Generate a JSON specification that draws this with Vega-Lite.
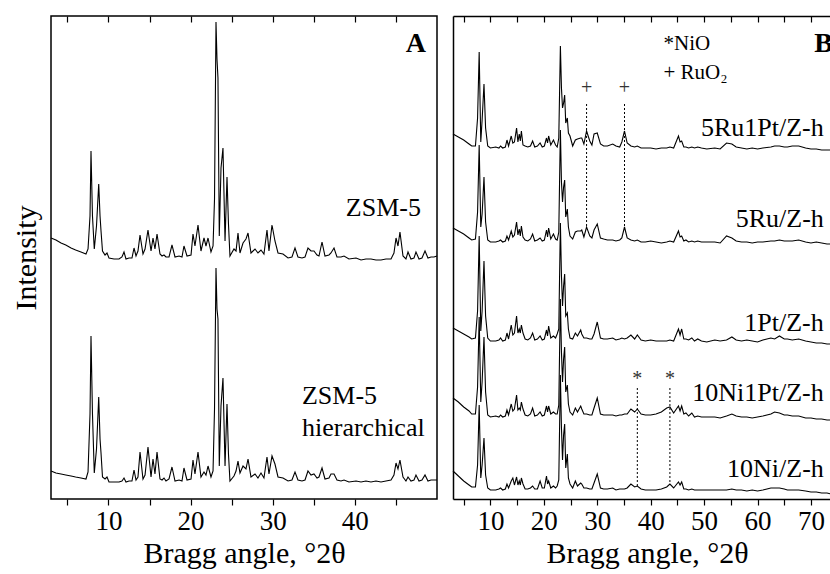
{
"$schema": "https://vega.github.io/schema/vega-lite/v6.json",
"background": "white",
"padding": {"left": 10, "top": 14, "right": 0, "bottom": 0},
"spacing": 16,
"bounds": "flush",
"config": {
  "font": "Liberation Serif",
  "view": {"stroke": "black", "strokeWidth": 1.5},
  "axis": {"domainColor": "black", "domainWidth": 1.5, "tickColor": "black", "tickWidth": 1.2, "labelColor": "black", "titleColor": "black", "labelFont": "Liberation Serif", "titleFont": "Liberation Serif", "labelFontSize": 27, "titleFontSize": 30, "titleFontWeight": "normal", "grid": false, "labelFlush": false, "labelOverlap": false, "labelBound": false}
},
"datasets": {
  "zsm": [
{"angle":3.0,"zsm":261,"hier":28},{"angle":3.6,"zsm":259,"hier":26},{"angle":4.22,"zsm":256,"hier":25},{"angle":4.8,"zsm":254,"hier":24},{"angle":5.44,"zsm":251,"hier":23},{"angle":6.0,"zsm":249,"hier":22},{"angle":6.65,"zsm":247,"hier":21},{"angle":7.26,"zsm":245,"hier":20},{"angle":7.51,"zsm":250,"hier":27},{"angle":7.75,"zsm":283,"hier":85},{"angle":7.87,"zsm":348,"hier":163},{"angle":8.05,"zsm":283,"hier":85},{"angle":8.27,"zsm":250,"hier":26},{"angle":8.54,"zsm":273,"hier":50},{"angle":8.81,"zsm":315,"hier":102},{"angle":8.97,"zsm":283,"hier":60},{"angle":9.09,"zsm":268,"hier":46},{"angle":9.27,"zsm":248,"hier":22},{"angle":9.58,"zsm":244,"hier":20},{"angle":9.82,"zsm":246,"hier":22},{"angle":10.06,"zsm":241,"hier":17},{"angle":10.67,"zsm":240,"hier":17},{"angle":11.28,"zsm":240,"hier":17},{"angle":11.64,"zsm":242,"hier":18},{"angle":11.89,"zsm":247,"hier":21},{"angle":12.13,"zsm":240,"hier":17},{"angle":12.5,"zsm":241,"hier":18},{"angle":12.86,"zsm":241,"hier":18},{"angle":13.11,"zsm":251,"hier":29},{"angle":13.35,"zsm":243,"hier":19},{"angle":13.59,"zsm":248,"hier":22},{"angle":13.84,"zsm":264,"hier":47},{"angle":14.2,"zsm":245,"hier":20},{"angle":14.45,"zsm":250,"hier":24},{"angle":14.81,"zsm":269,"hier":52},{"angle":15.18,"zsm":248,"hier":22},{"angle":15.42,"zsm":261,"hier":40},{"angle":15.66,"zsm":250,"hier":25},{"angle":15.91,"zsm":265,"hier":47},{"angle":16.27,"zsm":245,"hier":20},{"angle":16.52,"zsm":243,"hier":19},{"angle":16.76,"zsm":244,"hier":21},{"angle":17.0,"zsm":242,"hier":18},{"angle":17.37,"zsm":242,"hier":20},{"angle":17.73,"zsm":254,"hier":32},{"angle":18.1,"zsm":242,"hier":18},{"angle":18.59,"zsm":243,"hier":19},{"angle":18.95,"zsm":242,"hier":18},{"angle":19.19,"zsm":253,"hier":31},{"angle":19.56,"zsm":243,"hier":19},{"angle":20.05,"zsm":244,"hier":20},{"angle":20.29,"zsm":265,"hier":39},{"angle":20.53,"zsm":253,"hier":25},{"angle":20.9,"zsm":274,"hier":47},{"angle":21.26,"zsm":248,"hier":22},{"angle":21.63,"zsm":261,"hier":27},{"angle":21.87,"zsm":253,"hier":24},{"angle":22.12,"zsm":261,"hier":33},{"angle":22.48,"zsm":247,"hier":22},{"angle":22.73,"zsm":253,"hier":28},{"angle":22.91,"zsm":300,"hier":90},{"angle":23.09,"zsm":477,"hier":231},{"angle":23.21,"zsm":440,"hier":190},{"angle":23.33,"zsm":421,"hier":180},{"angle":23.49,"zsm":263,"hier":33},{"angle":23.7,"zsm":331,"hier":93},{"angle":23.94,"zsm":351,"hier":121},{"angle":24.19,"zsm":258,"hier":33},{"angle":24.43,"zsm":322,"hier":95},{"angle":24.61,"zsm":275,"hier":45},{"angle":24.79,"zsm":243,"hier":18},{"angle":25.28,"zsm":250,"hier":23},{"angle":25.53,"zsm":248,"hier":28},{"angle":25.77,"zsm":266,"hier":38},{"angle":26.01,"zsm":246,"hier":26},{"angle":26.38,"zsm":256,"hier":33},{"angle":26.74,"zsm":260,"hier":30},{"angle":26.99,"zsm":266,"hier":40},{"angle":27.35,"zsm":246,"hier":22},{"angle":27.84,"zsm":250,"hier":25},{"angle":28.2,"zsm":246,"hier":21},{"angle":28.57,"zsm":249,"hier":26},{"angle":28.93,"zsm":245,"hier":21},{"angle":29.3,"zsm":269,"hier":42},{"angle":29.54,"zsm":248,"hier":25},{"angle":29.91,"zsm":274,"hier":43},{"angle":30.27,"zsm":258,"hier":35},{"angle":30.64,"zsm":246,"hier":22},{"angle":31.25,"zsm":245,"hier":21},{"angle":31.86,"zsm":241,"hier":18},{"angle":32.34,"zsm":242,"hier":19},{"angle":32.71,"zsm":251,"hier":27},{"angle":33.07,"zsm":242,"hier":19},{"angle":33.56,"zsm":241,"hier":18},{"angle":33.93,"zsm":242,"hier":19},{"angle":34.29,"zsm":251,"hier":28},{"angle":34.66,"zsm":248,"hier":24},{"angle":35.02,"zsm":248,"hier":25},{"angle":35.39,"zsm":244,"hier":21},{"angle":35.63,"zsm":243,"hier":22},{"angle":36.0,"zsm":257,"hier":31},{"angle":36.36,"zsm":243,"hier":20},{"angle":36.85,"zsm":244,"hier":21},{"angle":37.09,"zsm":246,"hier":25},{"angle":37.46,"zsm":251,"hier":25},{"angle":37.82,"zsm":242,"hier":19},{"angle":38.31,"zsm":242,"hier":18},{"angle":38.68,"zsm":243,"hier":19},{"angle":39.28,"zsm":240,"hier":17},{"angle":40.14,"zsm":241,"hier":18},{"angle":40.75,"zsm":239,"hier":17},{"angle":41.35,"zsm":240,"hier":18},{"angle":41.96,"zsm":240,"hier":17},{"angle":42.57,"zsm":239,"hier":18},{"angle":43.18,"zsm":239,"hier":17},{"angle":43.79,"zsm":240,"hier":18},{"angle":44.4,"zsm":240,"hier":19},{"angle":44.76,"zsm":246,"hier":24},{"angle":45.01,"zsm":261,"hier":36},{"angle":45.25,"zsm":253,"hier":30},{"angle":45.49,"zsm":267,"hier":39},{"angle":45.86,"zsm":243,"hier":22},{"angle":46.22,"zsm":240,"hier":18},{"angle":46.47,"zsm":247,"hier":22},{"angle":46.83,"zsm":240,"hier":18},{"angle":47.2,"zsm":241,"hier":19},{"angle":47.44,"zsm":247,"hier":24},{"angle":47.81,"zsm":240,"hier":18},{"angle":48.17,"zsm":241,"hier":19},{"angle":48.54,"zsm":248,"hier":24},{"angle":48.9,"zsm":241,"hier":18},{"angle":49.27,"zsm":242,"hier":19},{"angle":49.63,"zsm":242,"hier":19},{"angle":50.0,"zsm":243,"hier":19}
  ],
  "cat": [
{"angle":3.0,"Ru1Pt":365,"Ru":271,"Pt":171,"Ni1Pt":101,"Ni":28},
{"angle":4.0,"Ru1Pt":362,"Ru":268,"Pt":168,"Ni1Pt":97,"Ni":23},
{"angle":5.0,"Ru1Pt":359,"Ru":265,"Pt":165,"Ni1Pt":92,"Ni":18},
{"angle":6.0,"Ru1Pt":355,"Ru":261,"Pt":162,"Ni1Pt":88,"Ni":14},
{"angle":6.5,"Ru1Pt":353,"Ru":259,"Pt":160,"Ni1Pt":85,"Ni":12},
{"angle":7.2,"Ru1Pt":353,"Ru":260,"Pt":161,"Ni1Pt":85,"Ni":12},
{"angle":7.6,"Ru1Pt":381,"Ru":287,"Pt":188,"Ni1Pt":112,"Ni":34},
{"angle":7.9,"Ru1Pt":447,"Ru":354,"Pt":263,"Ni1Pt":182,"Ni":94},
{"angle":8.2,"Ru1Pt":357,"Ru":272,"Pt":168,"Ni1Pt":97,"Ni":21},
{"angle":8.45,"Ru1Pt":379,"Ru":285,"Pt":188,"Ni1Pt":117,"Ni":34},
{"angle":8.8,"Ru1Pt":415,"Ru":322,"Pt":238,"Ni1Pt":162,"Ni":61},
{"angle":9.1,"Ru1Pt":371,"Ru":277,"Pt":183,"Ni1Pt":107,"Ni":24},
{"angle":9.5,"Ru1Pt":353,"Ru":259,"Pt":161,"Ni1Pt":84,"Ni":11},
{"angle":10.0,"Ru1Pt":351,"Ru":257,"Pt":158,"Ni1Pt":82,"Ni":9},
{"angle":11.0,"Ru1Pt":352,"Ru":257,"Pt":158,"Ni1Pt":83,"Ni":9},
{"angle":11.6,"Ru1Pt":351,"Ru":258,"Pt":159,"Ni1Pt":82,"Ni":10},
{"angle":11.9,"Ru1Pt":353,"Ru":259,"Pt":161,"Ni1Pt":84,"Ni":11},
{"angle":12.3,"Ru1Pt":351,"Ru":257,"Pt":158,"Ni1Pt":82,"Ni":9},
{"angle":12.8,"Ru1Pt":352,"Ru":258,"Pt":159,"Ni1Pt":83,"Ni":10},
{"angle":13.1,"Ru1Pt":359,"Ru":263,"Pt":166,"Ni1Pt":89,"Ni":15},
{"angle":13.4,"Ru1Pt":353,"Ru":259,"Pt":160,"Ni1Pt":84,"Ni":11},
{"angle":13.9,"Ru1Pt":363,"Ru":268,"Pt":174,"Ni1Pt":95,"Ni":18},
{"angle":14.2,"Ru1Pt":356,"Ru":262,"Pt":164,"Ni1Pt":88,"Ni":21},
{"angle":14.5,"Ru1Pt":357,"Ru":264,"Pt":166,"Ni1Pt":90,"Ni":14},
{"angle":14.9,"Ru1Pt":371,"Ru":277,"Pt":183,"Ni1Pt":104,"Ni":22},
{"angle":15.15,"Ru1Pt":357,"Ru":264,"Pt":166,"Ni1Pt":89,"Ni":14},
{"angle":15.4,"Ru1Pt":365,"Ru":270,"Pt":170,"Ni1Pt":91,"Ni":18},
{"angle":15.6,"Ru1Pt":358,"Ru":263,"Pt":166,"Ni1Pt":89,"Ni":14},
{"angle":15.8,"Ru1Pt":368,"Ru":273,"Pt":174,"Ni1Pt":97,"Ni":21},
{"angle":16.1,"Ru1Pt":354,"Ru":262,"Pt":166,"Ni1Pt":90,"Ni":15},
{"angle":16.5,"Ru1Pt":353,"Ru":259,"Pt":160,"Ni1Pt":84,"Ni":10},
{"angle":17.0,"Ru1Pt":352,"Ru":258,"Pt":159,"Ni1Pt":83,"Ni":10},
{"angle":17.5,"Ru1Pt":353,"Ru":260,"Pt":161,"Ni1Pt":85,"Ni":11},
{"angle":17.9,"Ru1Pt":358,"Ru":265,"Pt":166,"Ni1Pt":91,"Ni":13},
{"angle":18.3,"Ru1Pt":352,"Ru":258,"Pt":159,"Ni1Pt":83,"Ni":10},
{"angle":18.8,"Ru1Pt":353,"Ru":259,"Pt":160,"Ni1Pt":84,"Ni":10},
{"angle":19.3,"Ru1Pt":356,"Ru":261,"Pt":163,"Ni1Pt":87,"Ni":18},
{"angle":19.7,"Ru1Pt":352,"Ru":258,"Pt":159,"Ni1Pt":83,"Ni":11},
{"angle":20.1,"Ru1Pt":353,"Ru":259,"Pt":160,"Ni1Pt":84,"Ni":11},
{"angle":20.5,"Ru1Pt":361,"Ru":269,"Pt":169,"Ni1Pt":93,"Ni":23},
{"angle":20.7,"Ru1Pt":356,"Ru":262,"Pt":163,"Ni1Pt":87,"Ni":15},
{"angle":20.9,"Ru1Pt":363,"Ru":271,"Pt":173,"Ni1Pt":93,"Ni":18},
{"angle":21.3,"Ru1Pt":354,"Ru":260,"Pt":161,"Ni1Pt":85,"Ni":11},
{"angle":21.8,"Ru1Pt":359,"Ru":265,"Pt":163,"Ni1Pt":87,"Ni":13},
{"angle":22.2,"Ru1Pt":354,"Ru":260,"Pt":161,"Ni1Pt":85,"Ni":11},
{"angle":22.5,"Ru1Pt":352,"Ru":259,"Pt":165,"Ni1Pt":85,"Ni":13},
{"angle":22.8,"Ru1Pt":361,"Ru":267,"Pt":170,"Ni1Pt":94,"Ni":19},
{"angle":23.1,"Ru1Pt":453,"Ru":369,"Pt":276,"Ni1Pt":200,"Ni":124},
{"angle":23.3,"Ru1Pt":411,"Ru":317,"Pt":223,"Ni1Pt":147,"Ni":71},
{"angle":23.5,"Ru1Pt":391,"Ru":297,"Pt":193,"Ni1Pt":117,"Ni":39},
{"angle":23.7,"Ru1Pt":396,"Ru":312,"Pt":213,"Ni1Pt":140,"Ni":64},
{"angle":23.9,"Ru1Pt":404,"Ru":319,"Pt":225,"Ni1Pt":152,"Ni":75},
{"angle":24.1,"Ru1Pt":376,"Ru":282,"Pt":183,"Ni1Pt":107,"Ni":31},
{"angle":24.4,"Ru1Pt":381,"Ru":290,"Pt":186,"Ni1Pt":114,"Ni":45},
{"angle":24.6,"Ru1Pt":366,"Ru":272,"Pt":170,"Ni1Pt":95,"Ni":21},
{"angle":24.9,"Ru1Pt":363,"Ru":263,"Pt":161,"Ni1Pt":87,"Ni":15},
{"angle":25.4,"Ru1Pt":353,"Ru":260,"Pt":160,"Ni1Pt":84,"Ni":11},
{"angle":25.9,"Ru1Pt":359,"Ru":267,"Pt":166,"Ni1Pt":91,"Ni":18},
{"angle":26.3,"Ru1Pt":360,"Ru":268,"Pt":163,"Ni1Pt":87,"Ni":13},
{"angle":26.9,"Ru1Pt":361,"Ru":268,"Pt":169,"Ni1Pt":93,"Ni":16},
{"angle":27.1,"Ru1Pt":361,"Ru":269,"Pt":165,"Ni1Pt":90,"Ni":15},
{"angle":27.5,"Ru1Pt":355,"Ru":262,"Pt":161,"Ni1Pt":85,"Ni":11},
{"angle":28.0,"Ru1Pt":368,"Ru":272,"Pt":161,"Ni1Pt":85,"Ni":11},
{"angle":28.6,"Ru1Pt":358,"Ru":263,"Pt":160,"Ni1Pt":84,"Ni":10},
{"angle":29.0,"Ru1Pt":354,"Ru":261,"Pt":160,"Ni1Pt":84,"Ni":10},
{"angle":29.4,"Ru1Pt":365,"Ru":269,"Pt":165,"Ni1Pt":91,"Ni":16},
{"angle":30.0,"Ru1Pt":366,"Ru":275,"Pt":177,"Ni1Pt":101,"Ni":25},
{"angle":30.6,"Ru1Pt":355,"Ru":261,"Pt":161,"Ni1Pt":85,"Ni":11},
{"angle":31.2,"Ru1Pt":353,"Ru":260,"Pt":160,"Ni1Pt":84,"Ni":10},
{"angle":31.9,"Ru1Pt":353,"Ru":259,"Pt":160,"Ni1Pt":84,"Ni":10},
{"angle":32.9,"Ru1Pt":355,"Ru":259,"Pt":161,"Ni1Pt":84,"Ni":11},
{"angle":33.5,"Ru1Pt":353,"Ru":258,"Pt":159,"Ni1Pt":83,"Ni":9},
{"angle":34.2,"Ru1Pt":352,"Ru":259,"Pt":160,"Ni1Pt":84,"Ni":10},
{"angle":34.6,"Ru1Pt":357,"Ru":261,"Pt":161,"Ni1Pt":84,"Ni":10},
{"angle":35.1,"Ru1Pt":368,"Ru":272,"Pt":160,"Ni1Pt":85,"Ni":10},
{"angle":35.6,"Ru1Pt":356,"Ru":261,"Pt":161,"Ni1Pt":85,"Ni":11},
{"angle":36.3,"Ru1Pt":353,"Ru":259,"Pt":164,"Ni1Pt":90,"Ni":15},
{"angle":37.0,"Ru1Pt":352,"Ru":258,"Pt":160,"Ni1Pt":87,"Ni":12},
{"angle":37.5,"Ru1Pt":353,"Ru":259,"Pt":164,"Ni1Pt":90,"Ni":13},
{"angle":38.2,"Ru1Pt":351,"Ru":257,"Pt":159,"Ni1Pt":85,"Ni":10},
{"angle":39.0,"Ru1Pt":351,"Ru":257,"Pt":158,"Ni1Pt":84,"Ni":9},
{"angle":40.0,"Ru1Pt":351,"Ru":258,"Pt":159,"Ni1Pt":84,"Ni":9},
{"angle":41.0,"Ru1Pt":350,"Ru":257,"Pt":158,"Ni1Pt":85,"Ni":9},
{"angle":42.0,"Ru1Pt":351,"Ru":256,"Pt":158,"Ni1Pt":87,"Ni":10},
{"angle":43.0,"Ru1Pt":351,"Ru":257,"Pt":158,"Ni1Pt":91,"Ni":12},
{"angle":43.6,"Ru1Pt":352,"Ru":258,"Pt":159,"Ni1Pt":92,"Ni":15},
{"angle":44.3,"Ru1Pt":351,"Ru":257,"Pt":158,"Ni1Pt":86,"Ni":11},
{"angle":45.2,"Ru1Pt":363,"Ru":268,"Pt":170,"Ni1Pt":93,"Ni":17},
{"angle":45.5,"Ru1Pt":357,"Ru":262,"Pt":164,"Ni1Pt":88,"Ni":14},
{"angle":45.8,"Ru1Pt":358,"Ru":263,"Pt":170,"Ni1Pt":93,"Ni":17},
{"angle":46.2,"Ru1Pt":352,"Ru":258,"Pt":160,"Ni1Pt":85,"Ni":10},
{"angle":46.6,"Ru1Pt":352,"Ru":259,"Pt":160,"Ni1Pt":86,"Ni":10},
{"angle":47.1,"Ru1Pt":351,"Ru":257,"Pt":159,"Ni1Pt":83,"Ni":9},
{"angle":47.7,"Ru1Pt":352,"Ru":258,"Pt":161,"Ni1Pt":86,"Ni":10},
{"angle":48.2,"Ru1Pt":351,"Ru":257,"Pt":158,"Ni1Pt":82,"Ni":9},
{"angle":48.8,"Ru1Pt":352,"Ru":258,"Pt":160,"Ni1Pt":83,"Ni":9},
{"angle":49.5,"Ru1Pt":351,"Ru":257,"Pt":158,"Ni1Pt":82,"Ni":9},
{"angle":50.5,"Ru1Pt":350,"Ru":257,"Pt":157,"Ni1Pt":82,"Ni":9},
{"angle":52.0,"Ru1Pt":351,"Ru":257,"Pt":159,"Ni1Pt":82,"Ni":9},
{"angle":53.0,"Ru1Pt":350,"Ru":256,"Pt":158,"Ni1Pt":81,"Ni":9},
{"angle":54.2,"Ru1Pt":356,"Ru":263,"Pt":159,"Ni1Pt":83,"Ni":9},
{"angle":55.2,"Ru1Pt":355,"Ru":261,"Pt":162,"Ni1Pt":85,"Ni":10},
{"angle":56.0,"Ru1Pt":352,"Ru":258,"Pt":159,"Ni1Pt":83,"Ni":9},
{"angle":57.0,"Ru1Pt":351,"Ru":257,"Pt":158,"Ni1Pt":82,"Ni":9},
{"angle":58.0,"Ru1Pt":350,"Ru":257,"Pt":159,"Ni1Pt":82,"Ni":8},
{"angle":59.0,"Ru1Pt":351,"Ru":256,"Pt":158,"Ni1Pt":81,"Ni":9},
{"angle":60.0,"Ru1Pt":350,"Ru":257,"Pt":157,"Ni1Pt":82,"Ni":8},
{"angle":61.0,"Ru1Pt":351,"Ru":257,"Pt":159,"Ni1Pt":83,"Ni":9},
{"angle":62.5,"Ru1Pt":352,"Ru":258,"Pt":161,"Ni1Pt":85,"Ni":11},
{"angle":63.2,"Ru1Pt":353,"Ru":258,"Pt":160,"Ni1Pt":87,"Ni":11},
{"angle":64.1,"Ru1Pt":353,"Ru":259,"Pt":163,"Ni1Pt":86,"Ni":11},
{"angle":65.0,"Ru1Pt":352,"Ru":258,"Pt":160,"Ni1Pt":84,"Ni":10},
{"angle":65.6,"Ru1Pt":352,"Ru":258,"Pt":160,"Ni1Pt":84,"Ni":9},
{"angle":66.5,"Ru1Pt":353,"Ru":258,"Pt":159,"Ni1Pt":83,"Ni":9},
{"angle":67.7,"Ru1Pt":353,"Ru":259,"Pt":160,"Ni1Pt":83,"Ni":9},
{"angle":69.0,"Ru1Pt":351,"Ru":257,"Pt":158,"Ni1Pt":81,"Ni":8},
{"angle":70.0,"Ru1Pt":350,"Ru":256,"Pt":157,"Ni1Pt":81,"Ni":7},
{"angle":71.0,"Ru1Pt":350,"Ru":257,"Pt":156,"Ni1Pt":80,"Ni":7},
{"angle":72.0,"Ru1Pt":349,"Ru":256,"Pt":156,"Ni1Pt":80,"Ni":6},
{"angle":73.0,"Ru1Pt":349,"Ru":255,"Pt":155,"Ni1Pt":79,"Ni":6},
{"angle":73.75,"Ru1Pt":349,"Ru":255,"Pt":155,"Ni1Pt":79,"Ni":5}
  ],
  "labelsA": [{"angle":38.9,"intensity":291,"label":"ZSM-5"},{"angle":33.56,"intensity":103,"label":"ZSM-5"},{"angle":33.56,"intensity":71,"label":"hierarchical"}],
  "panelA": [{"angle":46.2,"intensity":455,"label":"A"}],
  "labelsB": [{"angle":72.4,"intensity":371,"label":"5Ru1Pt/Z-h"},{"angle":72.4,"intensity":280,"label":"5Ru/Z-h"},{"angle":72.4,"intensity":176,"label":"1Pt/Z-h"},{"angle":72.4,"intensity":106,"label":"10Ni1Pt/Z-h"},{"angle":72.4,"intensity":30,"label":"10Ni/Z-h"}],
  "markers": [{"angle":28.0,"intensity":411,"label":"+"},{"angle":35.1,"intensity":411,"label":"+"},{"angle":37.5,"intensity":120,"label":"*"},{"angle":43.6,"intensity":120,"label":"*"}],
  "legendB": [{"angle":42.4,"intensity":455,"label":"*NiO"},{"angle":42.4,"intensity":426,"label":"+ RuO₂"}],
  "panelB": [{"angle":70.6,"intensity":455,"label":"B"}],
  "dashes": [{"angle":28.0,"top":395,"bottom":271},{"angle":35.1,"top":395,"bottom":270},{"angle":37.5,"top":111,"bottom":13},{"angle":43.6,"top":111,"bottom":15}]
},
"hconcat": [
  {
    "width": 386, "height": 483,
    "layer": [
      {
        "data": {"name": "zsm"},
        "transform": [{"fold": ["zsm", "hier"], "as": ["sample", "intensity"]}],
        "mark": {"type": "line", "color": "black", "strokeWidth": 1.1},
        "encoding": {
          "x": {"field": "angle", "type": "quantitative", "scale": {"domain": [3, 50], "nice": false, "zero": false},
                "axis": {"orient": "bottom", "title": "Bragg angle, °2θ", "values": [5,10,15,20,25,30,35,40,45], "labelExpr": "datum.value % 10 === 0 ? datum.label : ''", "tickSize": 6, "labelPadding": 3, "domain": false, "titlePadding": 4}},
          "y": {"field": "intensity", "type": "quantitative", "scale": {"domain": [0, 483], "nice": false, "zero": false},
                "axis": {"orient": "left", "title": "Intensity", "labels": false, "ticks": false, "domain": false, "titlePadding": 10}},
          "detail": {"field": "sample", "type": "nominal"}
        }
      },
      {
        "data": {"name": "labelsA"},
        "mark": {"type": "text", "fontSize": 26, "align": "left", "baseline": "middle", "color": "black"},
        "encoding": {
          "x": {"field": "angle", "type": "quantitative", "axis": {"orient": "top", "title": null, "labels": false, "values": [5,10,15,20,25,30,35,40,45], "tickSize": 6, "offset": -6, "domain": false}},
          "y": {"field": "intensity", "type": "quantitative", "axis": null},
          "text": {"field": "label"}
        }
      },
      {
        "data": {"name": "panelA"},
        "mark": {"type": "text", "fontSize": 28, "fontWeight": "bold", "align": "left", "baseline": "middle", "color": "black"},
        "encoding": {
          "x": {"field": "angle", "type": "quantitative", "axis": null},
          "y": {"field": "intensity", "type": "quantitative", "axis": null},
          "text": {"field": "label"}
        }
      }
    ],
    "resolve": {"axis": {"x": "independent", "y": "independent"}}
  },
  {
    "width": 378, "height": 483,
    "view": {"stroke": null},
    "layer": [
      {
        "data": {"name": "cat"},
        "transform": [{"fold": ["Ru1Pt", "Ru", "Pt", "Ni1Pt", "Ni"], "as": ["sample", "intensity"]}],
        "mark": {"type": "line", "color": "black", "strokeWidth": 1.1},
        "encoding": {
          "x": {"field": "angle", "type": "quantitative", "scale": {"domain": [3, 73.75], "nice": false, "zero": false},
                "axis": {"orient": "bottom", "title": "Bragg angle, °2θ", "values": [5,10,15,20,25,30,35,40,45,50,55,60,65,70], "labelExpr": "datum.value % 10 === 0 ? datum.label : ''", "tickSize": 6, "labelPadding": 3, "domain": true, "titlePadding": 4, "titleX": 194}},
          "y": {"field": "intensity", "type": "quantitative", "scale": {"domain": [0, 483], "nice": false, "zero": false},
                "axis": {"orient": "left", "title": null, "labels": false, "ticks": false, "domain": true}},
          "detail": {"field": "sample", "type": "nominal"}
        }
      },
      {
        "data": {"name": "dashes"},
        "mark": {"type": "rule", "color": "black", "strokeWidth": 1, "strokeDash": [2, 2]},
        "encoding": {
          "x": {"field": "angle", "type": "quantitative", "axis": {"orient": "top", "title": null, "labels": false, "ticks": false, "domain": true}},
          "y": {"field": "top", "type": "quantitative", "axis": null},
          "y2": {"field": "bottom"}
        }
      },
      {
        "data": {"name": "labelsB"},
        "mark": {"type": "text", "fontSize": 26, "align": "right", "baseline": "middle", "color": "black"},
        "encoding": {
          "x": {"field": "angle", "type": "quantitative", "axis": {"orient": "top", "title": null, "labels": false, "values": [5,10,15,20,25,30,35,40,45,50,55,60,65,70], "tickSize": 6, "offset": -6, "domain": false}},
          "y": {"field": "intensity", "type": "quantitative", "axis": null},
          "text": {"field": "label"}
        }
      },
      {
        "data": {"name": "markers"},
        "mark": {"type": "text", "fontSize": 20, "align": "center", "baseline": "middle", "color": "#333333"},
        "encoding": {
          "x": {"field": "angle", "type": "quantitative", "axis": null},
          "y": {"field": "intensity", "type": "quantitative", "axis": null},
          "text": {"field": "label"}
        }
      },
      {
        "data": {"name": "legendB"},
        "mark": {"type": "text", "fontSize": 21, "align": "left", "baseline": "middle", "color": "black"},
        "encoding": {
          "x": {"field": "angle", "type": "quantitative", "axis": null},
          "y": {"field": "intensity", "type": "quantitative", "axis": null},
          "text": {"field": "label"}
        }
      },
      {
        "data": {"name": "panelB"},
        "mark": {"type": "text", "fontSize": 28, "fontWeight": "bold", "align": "left", "baseline": "middle", "color": "black", "clip": true},
        "encoding": {
          "x": {"field": "angle", "type": "quantitative", "axis": null},
          "y": {"field": "intensity", "type": "quantitative", "axis": null},
          "text": {"field": "label"}
        }
      }
    ],
    "resolve": {"axis": {"x": "independent", "y": "independent"}}
  }
]
}
